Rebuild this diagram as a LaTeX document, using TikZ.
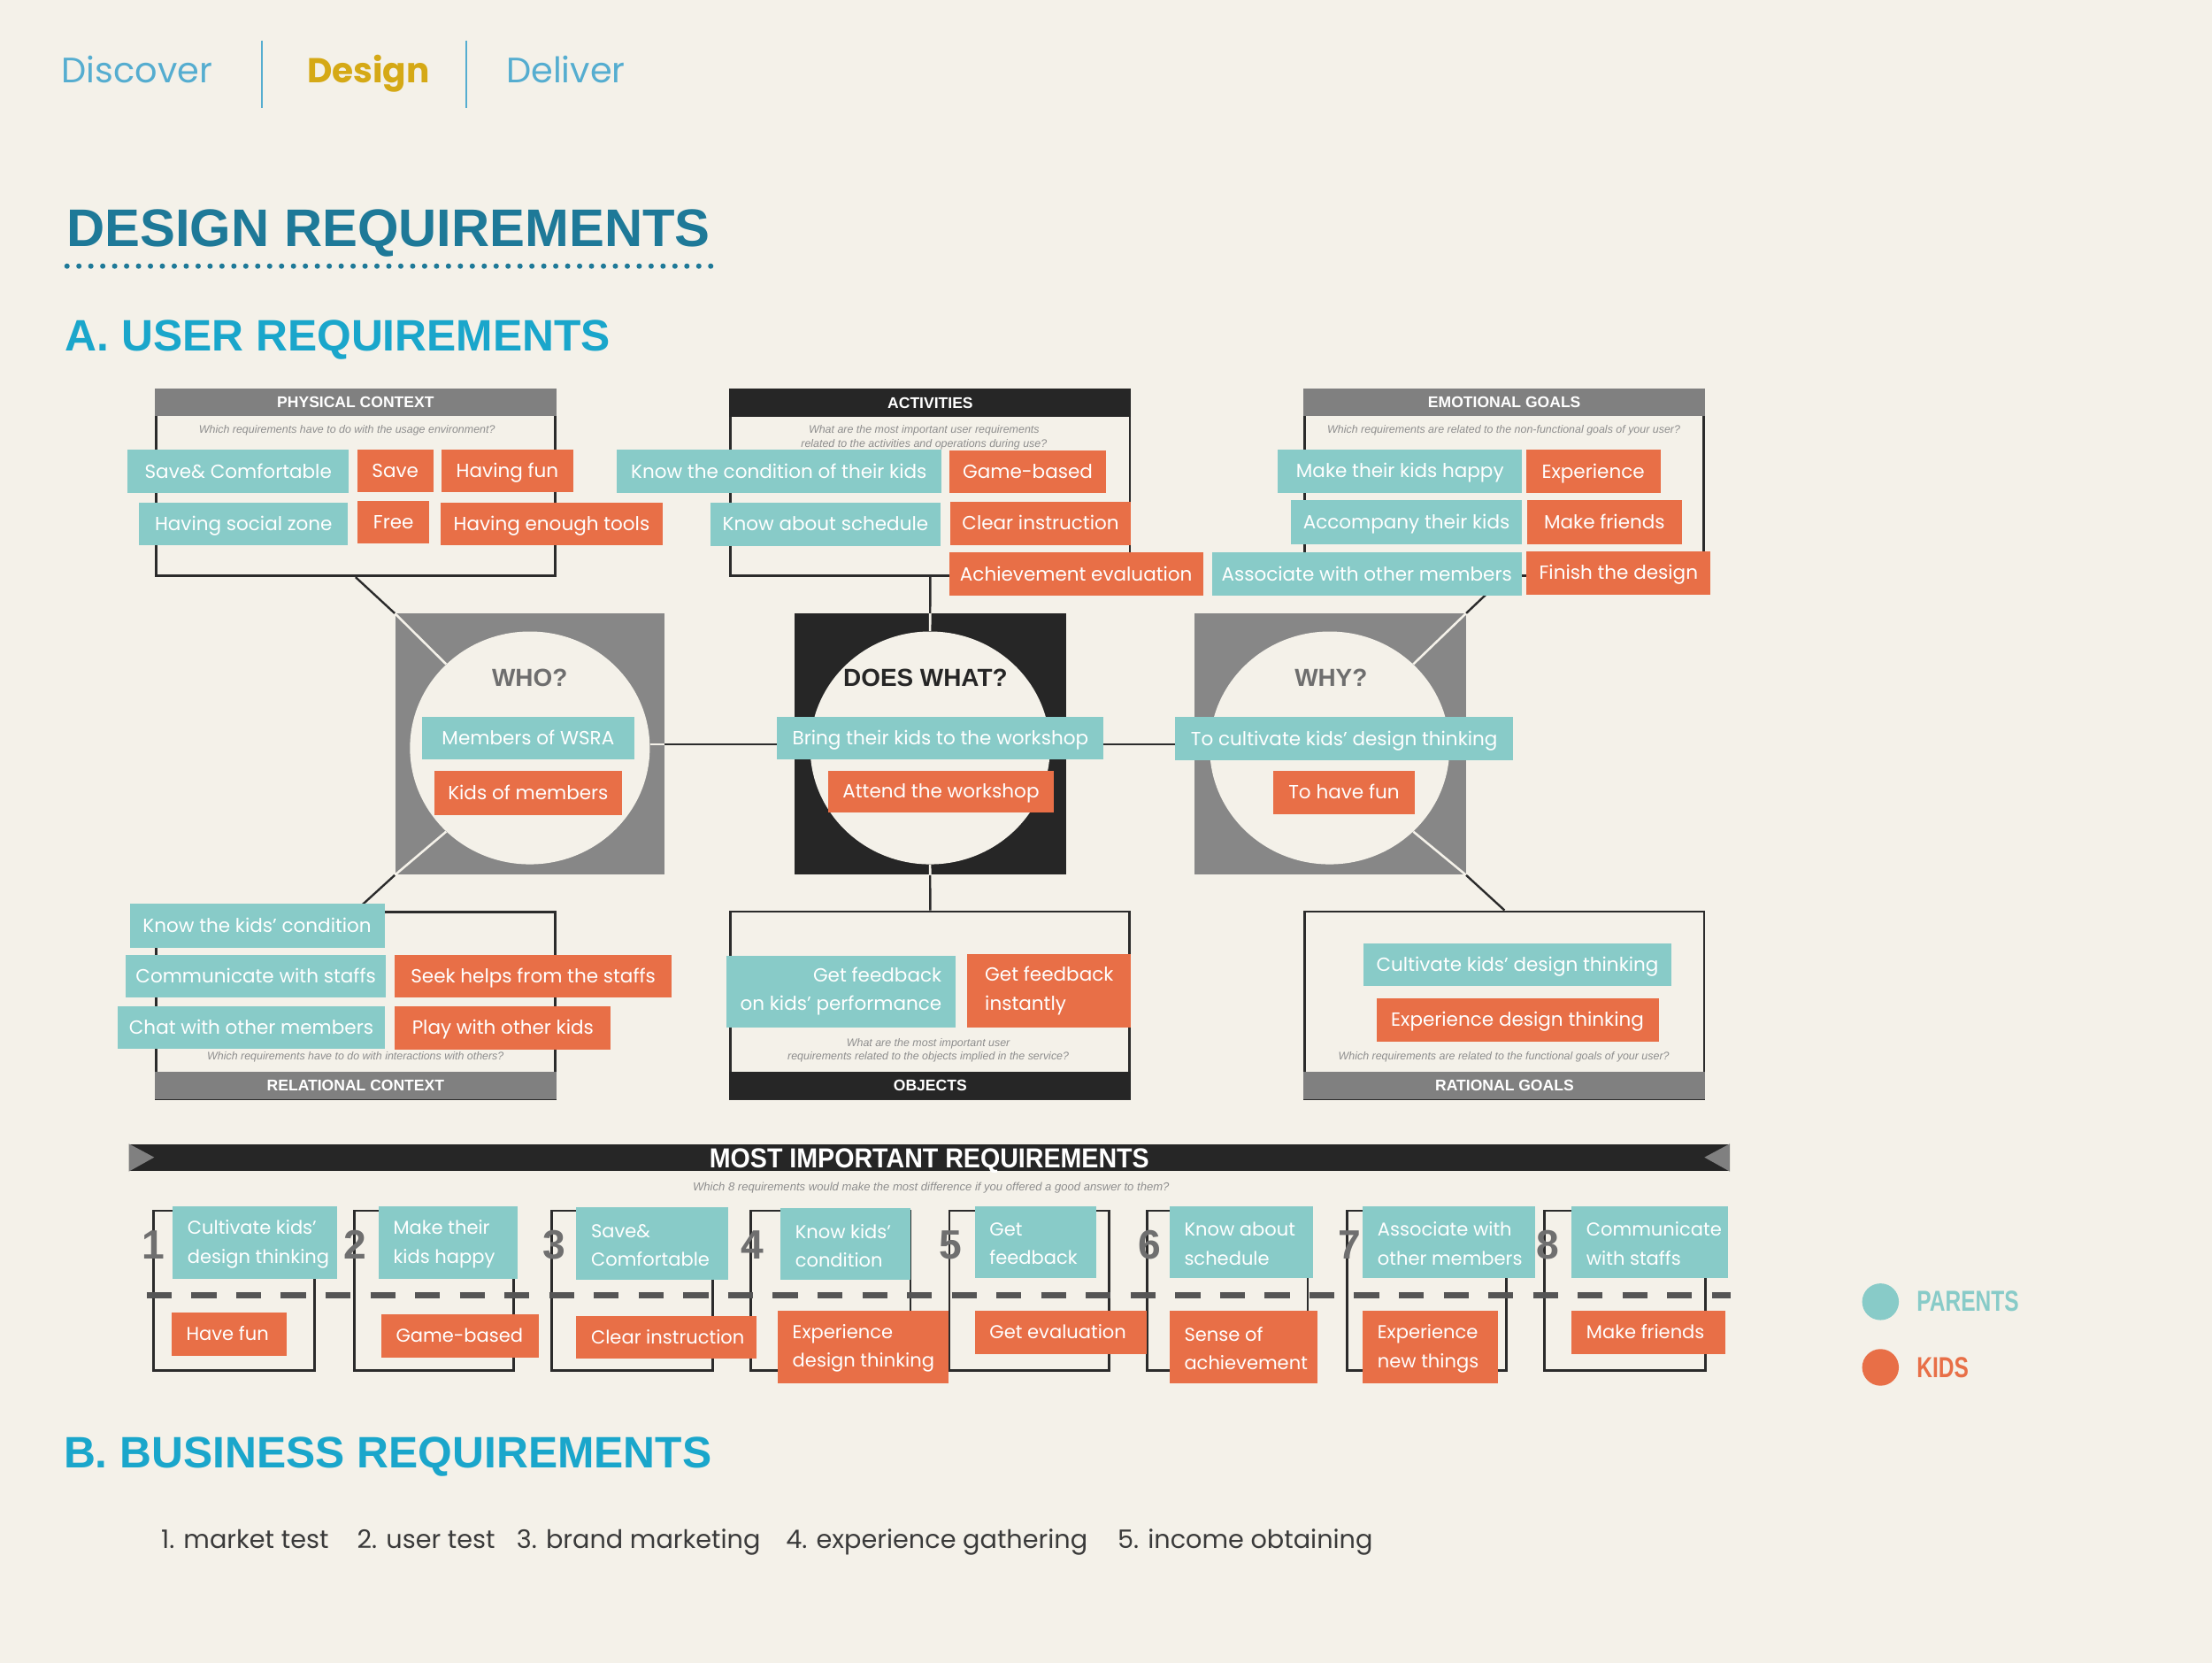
\documentclass[tikz,border=0pt]{standalone}
\usepackage{fontspec}
\setmainfont{Liberation Sans}
\newfontfamily\popp{Poppins}
\newfontfamily\lsans{Liberation Sans}
\newfontfamily\condb[FakeStretch=0.92]{Liberation Sans}
\newfontfamily\condc[FakeStretch=0.75]{Liberation Sans}
\usetikzlibrary{shapes.geometric}
\definecolor{bgc}{HTML}{F4F1E9}
\definecolor{tealc}{HTML}{88CBC8}
\definecolor{orgc}{HTML}{E86F47}
\definecolor{grayh}{HTML}{808080}
\definecolor{sqgray}{HTML}{878787}
\definecolor{blk}{HTML}{262626}
\definecolor{linec}{HTML}{2B2B2B}
\definecolor{subg}{HTML}{8E8E8E}
\definecolor{numg}{HTML}{6F6F6F}
\definecolor{dashc}{HTML}{555555}
\definecolor{dkteal}{HTML}{1E7998}
\definecolor{ateal}{HTML}{1AA6CB}
\definecolor{lblue}{HTML}{55ADD0}
\definecolor{gold}{HTML}{D5A916}
\definecolor{textg}{HTML}{3A3A3A}
\definecolor{whog}{HTML}{6E6E6E}
\newcommand{\boxfnt}{\popp\fontsize{13.5}{20.3}\selectfont}
\newcommand{\boxfntb}{\popp\fontsize{13.2}{20.3}\selectfont}
% #1 extra opts, #2 style, #3 name, #4 x1, #5 y1, #6 x2, #7 y2, #8 text
\newcommand{\mkbox}[8][]{%
  \pgfmathsetmacro\bxw{#6-#4}\pgfmathsetmacro\bxh{#7-#5}%
  \pgfmathsetmacro\bxcx{(#4+#6)/2}\pgfmathsetmacro\bxcy{(#5+#7)/2}%
  \node[#2, minimum width=\bxw pt, minimum height=\bxh pt, #1] (#3) at (\bxcx,\bxcy) {#8};}
% left-aligned box: #1 fill style, #2 text style, #3 name, #4..#7 coords, #8 text
\newcommand{\mkboxl}[8]{%
  \pgfmathsetmacro\bxw{#6-#4}\pgfmathsetmacro\bxh{#7-#5}%
  \pgfmathsetmacro\bxcx{(#4+#6)/2}\pgfmathsetmacro\bxcy{(#5+#7)/2}%
  \node[#1, minimum width=\bxw pt, minimum height=\bxh pt] (#3) at (\bxcx,\bxcy) {};
  \node[#2] (#3t) at ([xshift=10.5pt]#3.west) {#8};}
\tikzset{
 ctx/.style={draw=linec, line width=1.8pt, inner sep=0pt},
 hdg/.style={fill=grayh, text=white, font=\lsans\bfseries\fontsize{11}{11}\selectfont, inner sep=0pt, text height=7.9pt, text depth=0pt},
 hdk/.style={hdg, fill=blk},
 subt/.style={font=\lsans\itshape\fontsize{7.8}{9.5}\selectfont, text=subg, align=center, inner sep=0pt},
 bxbase/.style={text=white, font=\boxfnt, inner sep=0pt, align=center},
 tb/.style={bxbase, fill=tealc},
 ob/.style={bxbase, fill=orgc},
 tb1/.style={tb, text height=9.4pt, text depth=0pt},
 ob1/.style={ob, text height=9.4pt, text depth=0pt},
 tf/.style={fill=tealc, inner sep=0pt},
 of/.style={fill=orgc, inner sep=0pt},
 lt/.style={text=white, font=\boxfntb, align=left, anchor=west, inner sep=0pt, yshift=-1.2pt},
 lt1/.style={text=white, font=\boxfntb, anchor=west, inner sep=0pt, text height=9.2pt, text depth=0pt},
 sqg/.style={fill=sqgray, inner sep=0pt},
 sqb/.style={fill=blk, inner sep=0pt},
 ell/.style={ellipse, fill=bgc, minimum width=170pt, minimum height=165pt, inner sep=0pt},
 qlab/.style={font=\lsans\bfseries\fontsize{17.5}{17.5}\selectfont, inner sep=0pt, text height=12.5pt, text depth=0pt},
 conn/.style={draw=linec, line width=1.5pt},
 wl/.style={draw=bgc, line width=1.6pt},
 colb/.style={draw=linec, line width=1.8pt, inner sep=0pt},
 numl/.style={font=\lsans\bfseries\fontsize{29}{29}\selectfont, text=numg, inner sep=0pt, text height=20.8pt, text depth=0pt},
 hdr/.style={font=\popp\fontsize{25}{25}\selectfont, inner sep=0pt, anchor=base west},
 sepl/.style={draw=lblue, line width=1.6pt},
 bigt/.style={font=\lsans\bfseries\fontsize{37.5}{37.5}\selectfont, text=dkteal, inner sep=0pt, anchor=base west},
 subh/.style={font=\lsans\bfseries\fontsize{31.2}{31.2}\selectfont, text=ateal, inner sep=0pt, anchor=base west},
 bizt/.style={font=\popp\fontsize{18}{18}\selectfont, text=textg, inner sep=0pt, anchor=base west},
 legt/.style={font=\condc\bfseries\fontsize{20.5}{20.5}\selectfont, inner sep=0pt, anchor=west, text height=14.7pt, text depth=0pt},
 bnr/.style={fill=blk, text=white, font=\condb\bfseries\fontsize{19.5}{19.5}\selectfont, inner sep=0pt, text height=14pt, text depth=0pt},
}
\begin{document}
\begin{tikzpicture}[x=1pt,y=-1pt]
\fill[bgc] (0,0) rectangle (1568,1178.5);
\useasboundingbox (0,0) rectangle (1568,1178.5);

% ---------- header ----------
\node[hdr, text=lblue] (disc) at (43.5,58.5) {Discover};
\coordinate (s1t) at (185.6,28.6); \coordinate (s1b) at (185.6,76.7);
\draw[sepl] (s1t) -- (s1b);
\node[hdr, font=\popp\bfseries\fontsize{24.5}{24.5}\selectfont, text=gold] (desg) at (217.5,58.5) {Design};
\coordinate (s2t) at (330.5,28.6); \coordinate (s2b) at (330.5,76.7);
\draw[sepl] (s2t) -- (s2b);
\node[hdr, text=lblue] (deli) at (358.7,58.5) {Deliver};

\node[bigt] (title) at (47,174.6) {DESIGN REQUIREMENTS};
\coordinate (dotL) at (47.5,188.6); \coordinate (dotR) at (510,188.6);
\draw[dkteal, line width=3.8pt, line cap=round, dash pattern=on 0pt off 8.45pt] (dotL) -- (dotR);
\node[subh] (secA) at (46,248.8) {A. USER REQUIREMENTS};

% ---------- context boxes ----------
\mkbox{ctx}{phys}{110.6}{276}{393.5}{408.1}{}
\mkbox{hdg}{physh}{109.7}{275.5}{394.4}{294.8}{PHYSICAL CONTEXT}
\node[subt] (physq) at (246,305.2) {Which requirements have to do with the usage environment?};

\mkbox{ctx}{act}{518}{276}{800.9}{408.1}{}
\mkbox{hdk}{acth}{517.1}{275.5}{801.8}{295.2}{ACTIVITIES}
\node[subt] (actq) at (655,310) {What are the most important user requirements\\related to the activities and operations during use?};

\mkbox{ctx}{emo}{925}{276}{1207.7}{408.1}{}
\mkbox{hdg}{emoh}{924.1}{275.5}{1208.6}{294.8}{EMOTIONAL GOALS}
\node[subt] (emoq) at (1066,305.2) {Which requirements are related to the non-functional goals of your user?};

\mkbox{ctx}{rel}{110.6}{646.4}{393.5}{778.7}{}
\mkbox{hdg}{relh}{109.7}{759.3}{394.4}{779.2}{RELATIONAL CONTEXT}
\node[subt] (relq) at (252,748.8) {Which requirements have to do with interactions with others?};

\mkbox{ctx}{obj}{518}{646}{800.8}{778.7}{}
\mkbox{hdk}{objh}{517.1}{759.3}{801.7}{779.2}{OBJECTS}
\node[subt] (objq) at (658,744.2) {What are the most important user\\requirements related to the objects implied in the service?};

\mkbox{ctx}{rat}{925}{646}{1208}{778.7}{}
\mkbox{hdg}{rath}{924.1}{759.3}{1208.9}{779.2}{RATIONAL GOALS}
\node[subt] (ratq) at (1066,748.8) {Which requirements are related to the functional goals of your user?};

% ---------- central squares ----------
\mkbox{sqg}{who}{280.1}{434.9}{471.1}{619.9}{}
\mkbox{sqb}{dw}{563.2}{434.9}{755.5}{619.9}{}
\mkbox{sqg}{why}{846.9}{434.9}{1039}{619.9}{}
\node[ell] (whoe) at (375.6,530) {};
\node[ell] (dwe) at (659.3,530) {};
\node[ell] (whye) at (942.5,530) {};

% connectors
\draw[conn] (phys.south) -- (who.north west);
\draw[conn] (who.south west) -- (rel.north);
\draw[conn] (act.south) -- (dw.north);
\draw[conn] (dw.south) -- (obj.north);
\draw[conn] (emo.south) -- (why.north east);
\draw[conn] (why.south east) -- (rat.north);
\draw[conn] (who.east) -- (dw.west);
\draw[conn] (dw.east) -- (why.west);
% white lines inside squares
\draw[wl] (who.north west) -- (whoe.135);
\draw[wl] (who.south west) -- (whoe.225);
\draw[wl] (who.east) -- (who.east -| whoe.east);
\draw[wl] (dw.north) -- (dwe.north);
\draw[wl] (dw.south) -- (dwe.south);
\draw[wl] (why.north east) -- (whye.45);
\draw[wl] (why.south east) -- (whye.-45);

\node[qlab, text=whog] (whot) at (375.5,480) {WHO?};
\node[qlab, text=blk] (dwt) at (656,480) {DOES WHAT?};
\node[qlab, text=whog] (whyt) at (943.5,480) {WHY?};

% ---------- requirement boxes (top) ----------
\mkbox{tb1}{p1}{90.6}{318.8}{247.1}{349.6}{Save\& Comfortable}
\mkbox{ob1}{p2}{253.1}{318.8}{307.2}{348.7}{Save}
\mkbox{ob1}{p3}{312.9}{318.8}{406.5}{348.7}{Having fun}
\mkbox{tb1}{p4}{98.7}{356.5}{246.6}{386.4}{Having social zone}
\mkbox{ob1}{p5}{253.6}{354.8}{304.3}{385.3}{Free}
\mkbox{ob1}{p6}{312.4}{356.5}{469.7}{386.4}{Having enough tools}

\mkbox{tb1}{a1}{436.9}{318.8}{667.3}{349.6}{Know the condition of their kids}
\mkbox{ob1}{a2}{672.9}{319.4}{784.1}{349.6}{Game-based}
\mkbox{tb1}{a3}{503.5}{356}{666.8}{387.2}{Know about schedule}
\mkbox{ob1}{a4}{673.5}{355.4}{801.7}{386.4}{Clear instruction}
\mkbox{ob1}{a5}{672.9}{391.6}{852.7}{422.3}{Achievement evaluation}

\mkbox{tb1}{e1}{905.8}{318.4}{1079}{349.2}{Make their kids happy}
\mkbox{ob1}{e2}{1081.7}{318.8}{1177}{349.6}{Experience}
\mkbox{tb1}{e3}{914.9}{354.4}{1079}{385.7}{Accompany their kids}
\mkbox{ob1}{e4}{1082.7}{354.4}{1192}{385.7}{Make friends}
\mkbox{tb1}{e5}{859}{391.6}{1078.6}{421.9}{Associate with other members}
\mkbox{ob1}{e6}{1082.2}{390.5}{1212.5}{421.3}{Finish the design}

\mkbox{tb1}{w1}{299}{508}{449.7}{538.4}{Members of WSRA}
\mkbox{ob1}{w2}{307.7}{546.3}{441}{577.5}{Kids of members}
\mkbox{tb1}{d1}{550.9}{508}{782.4}{538.4}{Bring their kids to the workshop}
\mkbox{ob1}{d2}{587}{546}{747}{576}{Attend the workshop}
\mkbox{tb1}{y1}{833}{508}{1072.7}{538.8}{To cultivate kids’ design thinking}
\mkbox{ob1}{y2}{902.7}{546.3}{1002.7}{577}{To have fun}

\mkbox{tb1}{r1}{91.9}{640.3}{272.6}{671.7}{Know the kids’ condition}
\mkbox{tb1}{r2}{89.3}{676.9}{273.4}{707}{Communicate with staffs}
\mkbox{ob1}{r3}{279.9}{676.9}{476}{707}{Seek helps from the staffs}
\mkbox{tb1}{r4}{83.6}{712.9}{272.6}{743.2}{Chat with other members}
\mkbox{ob1}{r5}{279.9}{713.3}{433}{743.6}{Play with other kids}

\mkbox[align=right, yshift=-1.5pt]{tb}{ob1t}{514.7}{675.7}{677.5}{726.5}{Get feedback\\on kids’ performance}
\mkbox[align=left, yshift=-1.5pt]{ob}{ob2t}{685.8}{674.8}{801.7}{726.5}{Get feedback\\instantly}

\mkbox{tb1}{g1}{966.4}{668.3}{1184.9}{698.9}{Cultivate kids’ design thinking}
\mkbox{ob1}{g2}{975.6}{707.2}{1175.7}{738}{Experience design thinking}

% ---------- most important requirements ----------
\mkbox{bnr}{banner}{91.5}{810.7}{1226}{830}{MOST IMPORTANT REQUIREMENTS}
\fill[grayh] (banner.north west) -- ++(18,9.65) -- (banner.south west) -- cycle;
\fill[grayh] (banner.north east) -- ++(-18,9.65) -- (banner.south east) -- cycle;
\node[subt, font=\lsans\itshape\fontsize{8.2}{9.5}\selectfont] (bannq) at (660,841.5) {Which 8 requirements would make the most difference if you offered a good answer to them?};

\mkbox{colb}{c1}{109}{858}{223}{971}{}
\mkbox{colb}{c2}{251}{858}{364}{971}{}
\mkbox{colb}{c3}{391}{858}{505}{971}{}
\mkbox{colb}{c4}{532}{858}{645.4}{971}{}
\mkbox{colb}{c5}{673}{858}{786}{971}{}
\mkbox{colb}{c6}{813}{858}{927}{971}{}
\mkbox{colb}{c7}{955}{858}{1068}{971}{}
\mkbox{colb}{c8}{1095}{858}{1209}{971}{}

\coordinate (dashL) at (104,918); \coordinate (dashR) at (1227,918);
\draw[dashc, line width=4.2pt, dash pattern=on 17.7pt off 14pt] (dashL) -- (dashR);

\node[numl] (n1) at (109,882) {1};
\node[numl] (n2) at (252,882) {2};
\node[numl] (n3) at (393,882) {3};
\node[numl] (n4) at (533.6,882) {4};
\node[numl] (n5) at (674,882) {5};
\node[numl] (n6) at (815,882) {6};
\node[numl] (n7) at (957,882) {7};
\node[numl] (n8) at (1097,882) {8};

\mkboxl{tf}{lt}{ct1}{122.4}{854.6}{239}{906.4}{Cultivate kids’\\design thinking}
\mkboxl{of}{lt1}{co1}{121.6}{929.9}{203}{960.6}{Have fun}
\mkboxl{tf}{lt}{ct2}{268.3}{854.6}{367}{906.4}{Make their\\kids happy}
\mkboxl{of}{lt1}{co2}{270.2}{931.5}{382}{962}{Game-based}
\mkboxl{tf}{lt}{ct3}{408.5}{855.7}{516}{907}{Save\&\\Comfortable}
\mkboxl{of}{lt1}{co3}{408.5}{932.4}{536.3}{962.7}{Clear instruction}
\mkboxl{tf}{lt}{ct4}{553.2}{856.3}{645.4}{907}{Know kids’\\condition}
\mkboxl{of}{lt}{co4}{551.3}{928.6}{672.3}{980}{Experience\\design thinking}
\mkboxl{tf}{lt}{ct5}{691}{854.6}{777}{905.6}{Get\\feedback}
\mkboxl{of}{lt1}{co5}{691}{929}{813}{959.6}{Get evaluation}
\mkboxl{tf}{lt}{ct6}{829}{854.6}{931}{905.6}{Know about\\schedule}
\mkboxl{of}{lt}{co6}{829}{929}{934}{980}{Sense of\\achievement}
\mkboxl{tf}{lt}{ct7}{966}{854.6}{1088}{905.6}{Associate with\\other members}
\mkboxl{of}{lt}{co7}{966}{929}{1062}{980}{Experience\\new things}
\mkboxl{tf}{lt}{ct8}{1114}{854.6}{1225}{905.6}{Communicate\\with staffs}
\mkboxl{of}{lt1}{co8}{1114}{929}{1223}{959.6}{Make friends}

% ---------- legend ----------
\node[circle, fill=tealc, minimum size=26pt, inner sep=0pt] (lgp) at (1333,922.5) {};
\node[legt, text=tealc] (lgpt) at (1358.5,922) {PARENTS};
\node[circle, fill=orgc, minimum size=26pt, inner sep=0pt] (lgk) at (1333,969) {};
\node[legt, text=orgc] (lgkt) at (1358.5,968.7) {KIDS};

% ---------- business ----------
\node[subh] (secB) at (45,1040) {B. BUSINESS REQUIREMENTS};
\node[bizt] (b1) at (114,1097.5) {1. market test};
\node[bizt] (b2) at (253,1097.5) {2. user test};
\node[bizt] (b3) at (366,1097.5) {3. brand marketing};
\node[bizt] (b4) at (557,1097.5) {4. experience gathering};
\node[bizt] (b5) at (792,1097.5) {5. income obtaining};
\end{tikzpicture}
\end{document}
